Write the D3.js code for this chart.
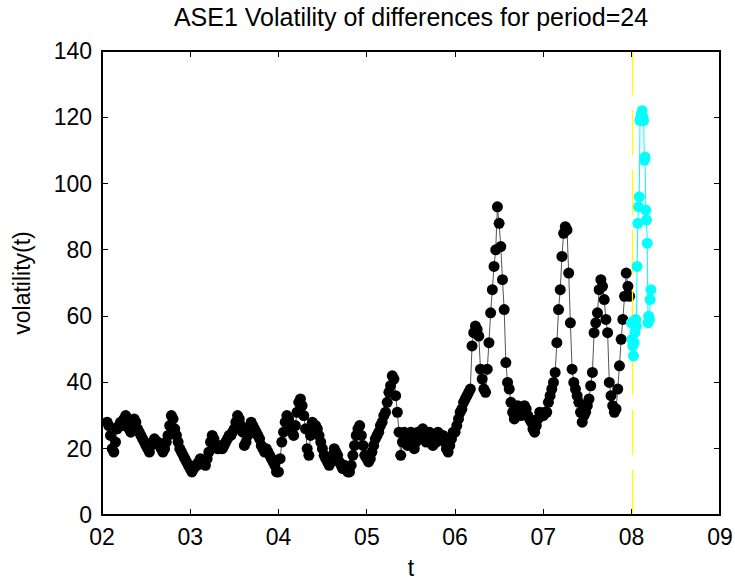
<!DOCTYPE html>
<html>
<head>
<meta charset="utf-8">
<script src="https://cdnjs.cloudflare.com/ajax/libs/d3/7.8.5/d3.min.js"></script>
<style>
body{margin:0;background:#fff;}
svg{display:block;font-family:"Liberation Sans",Arial,Helvetica,sans-serif;}
</style>
</head>
<body>
<svg id="chart"></svg>
<script>

//volatility, one value per week, one array per year
var vol2002=[28,27,24,20,19,22,26,27,28,27,29,30,28,26,25,27,29,28,26,25,24,23,22,21,20,19,21,22,23,22,22,21,20,19,20,22,24,27,30,29,26,24,22,20,19,18,17,16,15];
var vol2003=[14,13,14,15,15,16,17,16,16,15,17,19,22,24,23,21,20,20,21,20,21,22,23,24,24,25,26,28,30,29,27,25,21,22,24,26,28,27,26,25,24,23,21,20,19,20,19,18,17,16,15,13];
var vol2004=[13,17,22,25,28,30,29,27,25,24,27,31,34,35,33,30,26,20,18,24,28,27,27,26,24,22,20,18,17,16,15,16,18,20,19,18,16,15,14,15,14,13,13,15,18,21,24,26,27,24,21,18];
var vol2005=[17,16,17,19,21,23,24,25,27,28,30,31,34,37,39,42,41,36,31,25,18,22,25,24,21,23,25,24,20,22,25,23,24,26,23,22,24,25,23,21,24,22,25,24,23,24,22,20,19,21,23,25];
var vol2006=[25,27,29,31,32,34,35,36,37,38,51,55,57,56,54,44,41,38,37,44,52,61,68,75,80,93,88,81,71,62,46,40,38,34,31,29,31,33,32,30,31,33,32,30,29,28,26,25,27,29,31,30];
var vol2007=[30,31,31,34,36,38,40,43,52,62,68,78,85,87,86,73,58,44,40,38,36,34,31,28,30,31,33,35,39,43,55,58,61,68,71,69,65,59,55,40,36,33,31,32,38,45,53,59,66,73,69,66];

//the last part, one value every 3 days from 31 Dec 2007
var vol2008=[58,53,51,48,52,55,59,57,75,88,93,96,119,120,121,122,120,119,107,108,92,89,82,58,60,59,65,68];

var blackYears=[2002,2003,2004,2005,2006,2007];
var blackFirstDay=[22,1,1,1,1,1];
var blackValues=[vol2002,vol2003,vol2004,vol2005,vol2006,vol2007];

var xTickYears=[2002,2003,2004,2005,2006,2007,2008,2009];
var yTicks=[0,20,40,60,80,100,120,140];
var splitDate=new Date(2008,0,1);

var titleText="ASE1 Volatility of differences for period=24";

var width=735, height=580;
var marginLeft=102, marginRight=15, marginTop=51, marginBottom=65;

//prepare data
var blackData=[];
blackYears.forEach(function(y,k){
	blackValues[k].forEach(function(v,i){
		blackData.push({date:new Date(y,0,blackFirstDay[k]+7*i),value:v});
	})
})
var cyanData=vol2008.map(function(v,i){
	return {date:new Date(2007,11,31+3*i),value:v};
})

var svg=d3.select("#chart")
	.attr("width",width)
	.attr("height",height);

svg.append("rect")
	.attr("width",width)
	.attr("height",height)
	.attr("fill","#fff");

//scales
var x=d3.scaleTime()
	.domain([new Date(2002,0,1),new Date(2009,0,1)])
	.range([marginLeft,width-marginRight]);

var y=d3.scaleLinear()
	.domain([0,140])
	.range([height-marginBottom,marginTop]);

var line=d3.line()
	.x(function(d){return x(d.date);})
	.y(function(d){return y(d.value);});

var r=5.5;

//black part
svg.append("path")
	.datum(blackData)
	.attr("d",line)
	.style("fill","none")
	.style("stroke","#555")
	.style("stroke-width","1px");

svg.selectAll("circle.black")
	.data(blackData)
	.enter()
	.append("circle")
	.attr("class","black")
	.attr("cx",function(d){return x(d.date);})
	.attr("cy",function(d){return y(d.value);})
	.attr("r",r)
	.attr("fill","#000");

//yellow split line
var xs=Math.round(x(splitDate))+0.5;
svg.append("line")
	.attr("x1",xs)
	.attr("x2",xs)
	.attr("y1",y(0))
	.attr("y2",y(140))
	.style("stroke","#ffff00")
	.style("stroke-width","1.3px")
	.style("stroke-dasharray","45,15");

//cyan part
svg.append("path")
	.datum(cyanData)
	.attr("d",line)
	.style("fill","none")
	.style("stroke","#00ffff")
	.style("stroke-width","1px");

svg.selectAll("circle.cyan")
	.data(cyanData)
	.enter()
	.append("circle")
	.attr("class","cyan")
	.attr("cx",function(d){return x(d.date);})
	.attr("cy",function(d){return y(d.value);})
	.attr("r",r)
	.attr("fill","#00ffff");

//axes box
var x0=x.range()[0], x1=x.range()[1], y0=y.range()[0], y1=y.range()[1];
var tickLen=6;

var axes=svg.append("g")
	.style("shape-rendering","crispEdges");

axes.append("rect")
	.attr("x",x0)
	.attr("y",y1)
	.attr("width",x1-x0)
	.attr("height",y0-y1)
	.style("fill","none")
	.style("stroke","#000")
	.style("stroke-width","1.5px");

xTickYears.forEach(function(yr){
	var xx=x(new Date(yr,0,1));
	axes.append("line")
		.attr("x1",xx).attr("x2",xx)
		.attr("y1",y0).attr("y2",y0-tickLen)
		.style("stroke","#000");
	axes.append("line")
		.attr("x1",xx).attr("x2",xx)
		.attr("y1",y1).attr("y2",y1+tickLen)
		.style("stroke","#000");
	svg.append("text")
		.attr("x",xx)
		.attr("y",545)
		.attr("text-anchor","middle")
		.style("font-size","23px")
		.style("fill","#000")
		.text(d3.timeFormat("%y")(new Date(yr,0,1)));
})

yTicks.forEach(function(v){
	var yy=y(v);
	axes.append("line")
		.attr("x1",x0).attr("x2",x0+tickLen)
		.attr("y1",yy).attr("y2",yy)
		.style("stroke","#000");
	axes.append("line")
		.attr("x1",x1).attr("x2",x1-tickLen)
		.attr("y1",yy).attr("y2",yy)
		.style("stroke","#000");
	svg.append("text")
		.attr("x",x0-10)
		.attr("y",yy)
		.attr("dy",".35em")
		.attr("text-anchor","end")
		.style("font-size","23px")
		.style("fill","#000")
		.text(v);
})

//title and labels
svg.append("text")
	.attr("x",(x0+x1)/2)
	.attr("y",26)
	.attr("text-anchor","middle")
	.style("font-size","25px")
	.style("fill","#000")
	.text(titleText);

svg.append("text")
	.attr("x",(x0+x1)/2)
	.attr("y",576)
	.attr("text-anchor","middle")
	.style("font-size","23px")
	.style("fill","#000")
	.text("t");

svg.append("text")
	.attr("transform","translate(30,"+((y0+y1)/2)+") rotate(-90)")
	.attr("text-anchor","middle")
	.style("font-size","23px")
	.style("fill","#000")
	.text("volatility(t)");

</script>
</body>
</html>
